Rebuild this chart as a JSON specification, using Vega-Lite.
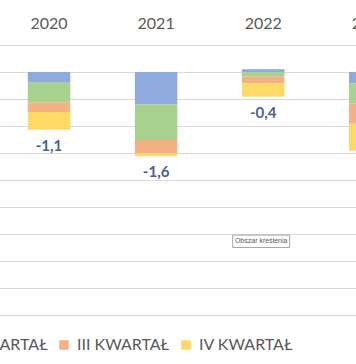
{
  "$schema": "https://vega.github.io/schema/vega-lite/v6.json",
  "autosize": {"type": "none"},
  "width": 356,
  "height": 270,
  "padding": {"top": 45, "left": 0, "right": 0, "bottom": 49},
  "background": "white",
  "config": {
    "view": {"stroke": null},
    "font": "Lato",
    "axisY": {"title": null, "labels": false, "ticks": false, "domain": false, "grid": true, "gridColor": "#d9d9d9", "gridWidth": 1, "gridOpacity": 1, "tickCount": 10, "labelOverlap": false},
    "locale": {"number": {"decimal": ",", "thousands": " ", "grouping": [3], "currency": ["", " zł"], "minus": "-"}}
  },
  "data": {
    "values": [
      {"year": "2020", "quarter": "I KWARTAŁ", "value": -0.2},
      {"year": "2020", "quarter": "II KWARTAŁ", "value": -0.37},
      {"year": "2020", "quarter": "III KWARTAŁ", "value": -0.17},
      {"year": "2020", "quarter": "IV KWARTAŁ", "value": -0.33},
      {"year": "2021", "quarter": "I KWARTAŁ", "value": -0.6},
      {"year": "2021", "quarter": "II KWARTAŁ", "value": -0.66},
      {"year": "2021", "quarter": "III KWARTAŁ", "value": -0.25},
      {"year": "2021", "quarter": "IV KWARTAŁ", "value": -0.05},
      {"year": "2022", "quarter": "I KWARTAŁ", "value": 0.05},
      {"year": "2022", "quarter": "II KWARTAŁ", "value": -0.09},
      {"year": "2022", "quarter": "III KWARTAŁ", "value": -0.12},
      {"year": "2022", "quarter": "IV KWARTAŁ", "value": -0.25},
      {"year": "2023", "quarter": "I KWARTAŁ", "value": -0.21},
      {"year": "2023", "quarter": "II KWARTAŁ", "value": -0.38},
      {"year": "2023", "quarter": "III KWARTAŁ", "value": -0.37},
      {"year": "2023", "quarter": "IV KWARTAŁ", "value": -0.5}
    ]
  },
  "encoding": {
    "x": {
      "field": "year", "type": "nominal",
      "scale": {"domain": ["2020", "2021", "2022", "2023"], "range": [-4.35, 423.65], "paddingInner": 0.603, "paddingOuter": 0.3},
      "axis": {"orient": "top", "title": null, "domain": false, "ticks": false, "grid": false, "labelAngle": 0,
               "labelFont": "Lato", "labelFontSize": 16, "labelColor": "#595959", "labelPadding": 14}
    }
  },
  "layer": [
    {
      "mark": {"type": "bar"},
      "encoding": {
        "y": {
          "field": "value", "type": "quantitative", "stack": "zero", "title": null,
          "scale": {"domain": [-4.5, 0.5], "nice": false, "zero": false}
        },
        "color": {
          "field": "quarter", "type": "nominal",
          "scale": {"domain": ["I KWARTAŁ", "II KWARTAŁ", "III KWARTAŁ", "IV KWARTAŁ"],
                    "range": ["#8faadc", "#a9d18e", "#f4b183", "#ffd966"]},
          "legend": {"orient": "none", "direction": "horizontal", "title": null,
                     "legendX": -174, "legendY": 292,
                     "symbolType": "square", "symbolSize": 90, "symbolStrokeWidth": 0,
                     "labelFont": "Lato", "labelFontSize": 16, "labelColor": "#595959",
                     "labelOffset": 5, "columnPadding": 8, "labelLimit": 300}
        },
        "order": {"field": "quarter", "sort": "ascending"}
      }
    },
    {
      "transform": [
        {"calculate": "min(datum.value, 0)", "as": "neg"},
        {"aggregate": [{"op": "sum", "field": "value", "as": "total"}, {"op": "sum", "field": "neg", "as": "negsum"}], "groupby": ["year"]}
      ],
      "mark": {"type": "text", "dy": 16, "baseline": "middle", "fontWeight": "bold", "fontSize": 15, "font": "Lato", "color": "#4a6099"},
      "encoding": {
        "y": {"field": "negsum", "type": "quantitative", "title": null},
        "text": {"field": "total", "type": "quantitative", "format": ".1f"}
      }
    },
    {
      "data": {"values": [{"year": "2022", "top": -3.02, "bottom": -3.25, "value": -3.13, "note": "Obszar kreślenia"}]},
      "layer": [
        {
          "mark": {"type": "bar", "size": 57, "fill": "white", "stroke": "#a6a6a6", "strokeWidth": 1, "xOffset": -2},
          "encoding": {
            "y": {"field": "top", "type": "quantitative", "title": null},
            "y2": {"field": "bottom"}
          }
        },
        {
          "mark": {"type": "text", "fontSize": 7, "font": "Liberation Sans", "color": "#595959", "dx": -2},
          "encoding": {
            "y": {"field": "value", "type": "quantitative", "title": null},
            "text": {"field": "note"}
          }
        }
      ]
    }
  ]
}
